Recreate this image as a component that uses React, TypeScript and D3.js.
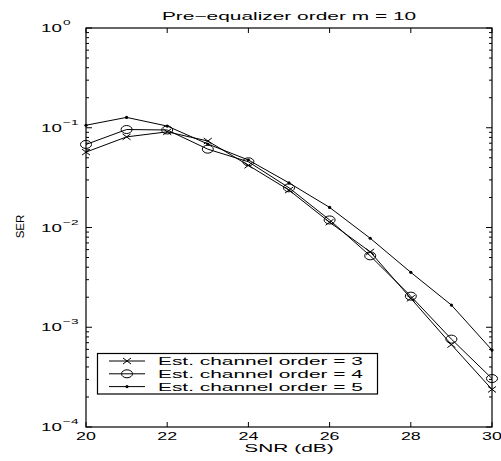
import React, { useEffect, useRef } from 'react';
import * as d3 from 'd3';

const snr = [20, 21, 22, 23, 24, 25, 26, 27, 28, 29, 30];
const serOrder3 = [0.057, 0.081, 0.091, 0.0736, 0.042, 0.0237, 0.0113, 0.0057, 0.00195, 0.00067, 0.000238];
const serOrder4 = [0.068, 0.096, 0.095, 0.061, 0.0456, 0.025, 0.0119, 0.0052, 0.00205, 0.00076, 0.000306];
const serOrder5 = [0.106, 0.127, 0.104, 0.0687, 0.0475, 0.028, 0.0159, 0.0078, 0.00355, 0.00167, 0.00059];
const xTicks = [20, 22, 24, 26, 28, 30];
const yExps = [0, -1, -2, -3, -4];
const legendLabels = ['Est. channel order = 3', 'Est. channel order = 4', 'Est. channel order = 5'];

const W = 501;
const H = 461;
const m = { left: 86, right: 492, top: 28, bottom: 427 };
const font = 'Liberation Sans, Arial, Helvetica, sans-serif';
// the reference's lettering is stretched sideways
const SX = 1.9;
const SXNUM = 1.7;

const App = () => {
  const svgRef = useRef(null);

  useEffect(() => {
    const svg = d3.select(svgRef.current);
    svg.selectAll('*').remove();

    const x = d3.scaleLinear().domain([20, 30]).range([m.left, m.right]);
    const y = d3.scaleLog().domain([1e-4, 1]).range([m.bottom, m.top]);

    const label = (px, py, str, anchor = 'start', sx = SX, size = 11) =>
      svg
        .append('text')
        .attr('transform', `translate(${px},${py}) scale(${sx},1)`)
        .attr('text-anchor', anchor)
        .attr('font-family', font)
        .attr('font-size', size)
        .text(str);

    // frame
    svg
      .append('rect')
      .attr('x', m.left)
      .attr('y', m.top)
      .attr('width', m.right - m.left)
      .attr('height', m.bottom - m.top)
      .attr('fill', 'none')
      .attr('stroke', '#000')
      .attr('stroke-width', 1.2);

    const ticks = svg.append('g').attr('stroke', '#000').attr('stroke-width', 1);

    // x ticks, inward, bottom and top
    xTicks.forEach((t) => {
      ticks.append('line').attr('x1', x(t)).attr('x2', x(t)).attr('y1', m.bottom).attr('y2', m.bottom - 5);
      ticks.append('line').attr('x1', x(t)).attr('x2', x(t)).attr('y1', m.top).attr('y2', m.top + 5);
    });

    // y major and minor ticks, left and right
    for (let e = -4; e < 0; e++) {
      for (let k = 2; k <= 9; k++) {
        const yy = y(k * Math.pow(10, e));
        ticks.append('line').attr('x1', m.left).attr('x2', m.left + 3).attr('y1', yy).attr('y2', yy);
        ticks.append('line').attr('x1', m.right).attr('x2', m.right - 3).attr('y1', yy).attr('y2', yy);
      }
    }
    yExps.forEach((e) => {
      const yy = y(Math.pow(10, e));
      ticks.append('line').attr('x1', m.left).attr('x2', m.left + 6).attr('y1', yy).attr('y2', yy);
      ticks.append('line').attr('x1', m.right).attr('x2', m.right - 6).attr('y1', yy).attr('y2', yy);
    });

    // tick labels
    xTicks.forEach((t) => {
      label(x(t), m.bottom + 13, String(t), 'middle', SXNUM, 10.5);
    });
    yExps.forEach((e) => {
      const yy = y(Math.pow(10, e));
      label(41, yy + 4, '10', 'start', SXNUM);
      label(63, yy - 3, e === 0 ? '0' : `\u2212${-e}`, 'start', SXNUM, 8);
    });

    // titles
    label((m.left + m.right) / 2, 19.5, 'Pre\u2212equalizer order m = 10', 'middle');
    label((m.left + m.right) / 2, 452, 'SNR (dB)', 'middle');
    svg
      .append('text')
      .attr('transform', `translate(24,${(m.top + m.bottom) / 2 - 1}) rotate(-90)`)
      .attr('text-anchor', 'middle')
      .attr('font-family', font)
      .attr('font-size', 11.5)
      .text('SER');

    const line = d3
      .line<number>()
      .x((_, i) => x(snr[i]))
      .y((d) => y(d));

    const drawMarker = (g, kind, cx, cy) => {
      if (kind === 'x') {
        g.append('path')
          .attr('d', `M${cx - 4},${cy - 3}L${cx + 4},${cy + 3}M${cx - 4},${cy + 3}L${cx + 4},${cy - 3}`)
          .attr('stroke', '#000')
          .attr('stroke-width', 1)
          .attr('fill', 'none');
      } else if (kind === 'o') {
        g.append('ellipse')
          .attr('cx', cx)
          .attr('cy', cy)
          .attr('rx', 5.5)
          .attr('ry', 4)
          .attr('stroke', '#000')
          .attr('stroke-width', 1)
          .attr('fill', 'none');
      } else {
        g.append('circle').attr('cx', cx).attr('cy', cy).attr('r', 1.6).attr('fill', '#000');
      }
    };

    const series = [
      { values: serOrder3, kind: 'x' },
      { values: serOrder4, kind: 'o' },
      { values: serOrder5, kind: 'dot' },
    ];

    series.forEach((s) => {
      const g = svg.append('g');
      g.append('path')
        .datum(s.values)
        .attr('d', line)
        .attr('fill', 'none')
        .attr('stroke', '#000')
        .attr('stroke-width', 1);
      s.values.forEach((v, i) => drawMarker(g, s.kind, x(snr[i]), y(v)));
    });

    // legend
    const lg = svg.append('g');
    lg.append('rect')
      .attr('x', 97.5)
      .attr('y', 353.5)
      .attr('width', 280)
      .attr('height', 40.5)
      .attr('fill', '#fff')
      .attr('stroke', '#000')
      .attr('stroke-width', 1.2);
    legendLabels.forEach((lab, i) => {
      const ly = 361 + i * 12.8;
      lg.append('line')
        .attr('x1', 109)
        .attr('x2', 145)
        .attr('y1', ly)
        .attr('y2', ly)
        .attr('stroke', '#000')
        .attr('stroke-width', 1);
      drawMarker(lg, series[i].kind, 127, ly);
      lg.append('text')
        .attr('transform', `translate(158,${ly + 4}) scale(${SX},1)`)
        .attr('font-family', font)
        .attr('font-size', 11)
        .text(lab);
    });
  }, []);

  return (
    <svg
      ref={svgRef}
      width={W}
      height={H}
      style={{ position: 'absolute', left: 0, top: 0, background: '#fff' }}
    ></svg>
  );
};

export default App;
